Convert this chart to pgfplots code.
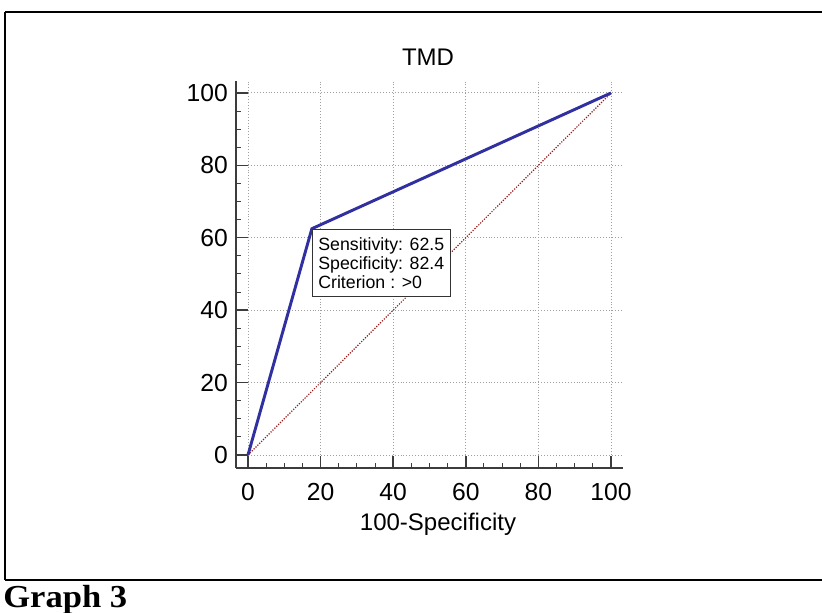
\documentclass[border=0pt]{standalone}
\usepackage{fontspec}
\setmainfont{Liberation Sans}
\newfontfamily\timesfont{Liberation Serif}
\usepackage{pgfplots}
\pgfplotsset{compat=1.18}

\definecolor{roc}{RGB}{48,48,160}
\definecolor{diag}{RGB}{150,25,25}
\definecolor{axisgray}{RGB}{60,60,60}
\tikzset{gridline/.style={gray!75, line width=0.7pt, dash pattern=on 0.7pt off 1.5pt}}

\begin{document}
\begin{tikzpicture}
\path[use as bounding box] (0pt,0pt) rectangle (616.5pt,459pt);
% frame round the figure
\draw[line width=0.8pt] (3.75pt,450pt) -- (570pt,450pt);
\draw[line width=1.6pt] (570pt,450pt) -- (616.5pt,450pt);
\draw[line width=0.8pt] (3.75pt,450pt) -- (3.75pt,24pt);
\draw[line width=1.6pt] (3.75pt,24pt) -- (616.5pt,24pt);
\node[anchor=base west, inner sep=0pt, xscale=1.08, font=\timesfont\bfseries\fontsize{24}{28}\selectfont] at (2.25pt,3.5pt) {Graph 3};

\begin{axis}[
  at={(177pt,108pt)}, anchor=south west,
  scale only axis, width=290.25pt, height=290.25pt,
  xmin=-3.3, xmax=103.3, ymin=-3.6, ymax=103.3,
  axis x line*=bottom, axis y line*=left,
  axis line style={axisgray, line width=1.5pt},
  xtick={0,20,...,100}, ytick={0,20,...,100},
  minor tick num=3,
  tick align=inside,
  major tick length=8.7pt, minor tick length=4pt,
  major tick style={axisgray, line width=1.1pt},
  minor tick style={axisgray, line width=0.8pt},
  /pgf/number format/assume math mode=true,
  tick label style={font=\fontsize{18.5}{22}\selectfont, inner sep=0pt},
  xticklabel style={anchor=north, yshift=-11.25pt},
  yticklabel style={anchor=east, xshift=-6pt},
  clip=false,
]
% dotted grid from 0 to the end of the axes
\pgfplotsinvokeforeach{0,20,40,60,80,100}{
  \draw[gridline] (axis cs:#1,0) -- (axis cs:#1,103.3);
  \draw[gridline] (axis cs:0,#1) -- (axis cs:103.3,#1);
}
% reference diagonal
\addplot[diag, line width=0.9pt, dash pattern=on 0.9pt off 1.1pt] coordinates {(0,0) (100,100)};
% ROC curve
\addplot[roc, line width=2.2pt, mark=none] coordinates {(0,0) (17.6,62.5) (100,100)};

\node[draw=black!80, line width=0.7pt, fill=white, anchor=north west, align=left,
  inner xsep=4.5pt, inner ysep=6pt, font=\fontsize{13.3}{14.25}\selectfont]
  at (axis cs:17.6,62.5) {Sensitivity: 62.5\\Specificity: 82.4\\Criterion : >0};
\end{axis}

\node[anchor=base, inner sep=0pt, font=\fontsize{18}{22}\selectfont] at (321pt,409.5pt) {TMD};
\node[anchor=base, inner sep=0pt, font=\fontsize{18}{22}\selectfont] at (328.5pt,61.5pt) {100-Specificity};
\end{tikzpicture}
\end{document}
